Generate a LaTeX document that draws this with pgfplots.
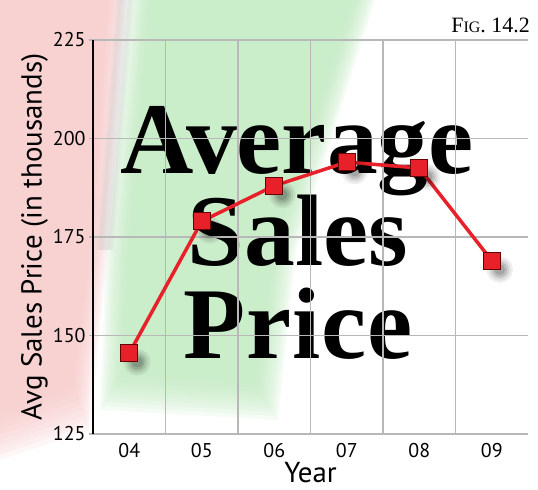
\documentclass[border=0pt]{standalone}
\usepackage{pgfplots}
\pgfplotsset{compat=1.18}
\usepackage{fontspec}
\setmainfont{PT Sans}
\newfontfamily\serifb{Liberation Serif}
\definecolor{pinkc}{HTML}{F6C4C4}
\definecolor{greenc}{HTML}{BDE8BD}
\definecolor{redc}{HTML}{E8202A}
\definecolor{gridc}{HTML}{B8B8B8}
\pgfplotstableread{
x y
0 145.5
1 179
2 188
3 194
4 192.5
5 169
}\prices
\pgfplotsset{shadowmark/.style 2 args={draw=none, mark=*, mark size=#1, mark options={fill=black, draw=none, opacity=#2, xshift=8bp, yshift=-9bp}}}
\begin{document}
\begin{tikzpicture}[x=1bp,y=1bp]
\path[use as bounding box] (0,0) rectangle (538,490);
% soft background blobs
\foreach \i in {0,...,9}{
  \fill[pinkc, opacity=0.14] (0,490) -- ({126-2*\i},490) -- ({108-2*\i},240) -- ({90-2*\i},{60+5*\i}) -- (0,{30+5*\i}) -- cycle;
  \fill[greenc, opacity=0.15] ({128+2.5*\i},490) -- ({375-2.5*\i},490) -- ({296-2.5*\i},240) -- ({278-2.5*\i},{70+4*\i}) -- ({100+2.5*\i},{80+4*\i}) -- ({106+2.5*\i},240) -- cycle;
}
\foreach \i in {0,...,4}{
  \fill[black!30, opacity=0.06] ({116+\i},490) -- ({134-\i},490) -- ({114-\i},240) -- ({96+\i},240) -- cycle;
}
\node[anchor=base, inner sep=0] at (297,316) {\serifb\bfseries\fontsize{102}{102}\selectfont Average};
\node[anchor=base, inner sep=0] at (298,224) {\serifb\bfseries\fontsize{102}{102}\selectfont Sales};
\node[anchor=base, inner sep=0] at (298,131) {\serifb\bfseries\fontsize{102}{102}\selectfont P\kern1bp r\kern1bp i\kern1bp c\kern1bp e};
\node[anchor=base east, inner sep=0] at (530,457) {\serifb\fontsize{22}{22}\selectfont F{\fontsize{16}{16}\selectfont IG}. 14.2};
\begin{axis}[
  at={(93bp,56bp)}, anchor=south west, scale only axis,
  width=435bp, height=394bp,
  xmin=-0.5, xmax=5.5, ymin=125, ymax=225,
  xtick={0,...,5}, xticklabels={04,05,06,07,08,09},
  minor xtick={0.5,1.5,2.5,3.5,4.5},
  ytick={125,150,175,200,225},
  xminorgrids, ymajorgrids,
  grid style={gridc, line width=1.5bp},
  minor grid style={gridc, line width=1.5bp},
  axis line style={gridc, line width=1.5bp},
  xtick style={draw=none},
  minor tick length=0pt,
  ytick style={gridc, line width=1.5bp},
  tick align=outside, major tick length=4bp,
  axis x line*=bottom, axis y line*=left,
  /pgf/number format/assume math mode=true,
  ticklabel style={font=\fontsize{20}{20}\selectfont},
  xticklabel style={yshift=-2bp},
  xlabel={Year}, ylabel={Avg Sales Price (in thousands)},
  label style={font=\fontsize{29}{29}\selectfont},
  xlabel style={yshift=3bp},
  ylabel style={yshift=-2bp},
  clip=false,
]
\addplot[shadowmark={13bp}{0.05}] table {\prices};
\addplot[shadowmark={11bp}{0.06}] table {\prices};
\addplot[shadowmark={9bp}{0.08}] table {\prices};
\addplot[shadowmark={7bp}{0.10}] table {\prices};
\addplot[shadowmark={5bp}{0.12}] table {\prices};
\addplot[redc, line width=3.5bp, mark=square*, mark size=8.5bp, mark options={fill=redc, draw=red!40!black, line width=0.6bp}] table {\prices};
\draw[black, line width=1.5bp] (rel axis cs:0,0) -- (rel axis cs:0,1);
\end{axis}
\end{tikzpicture}
\end{document}
